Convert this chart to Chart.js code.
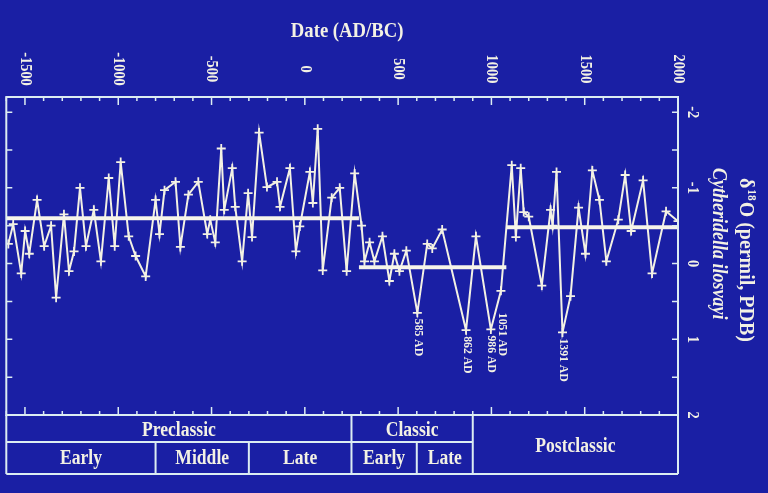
<!DOCTYPE html>
<html>
<head>
<meta charset="utf-8">
<script src="https://cdn.jsdelivr.net/npm/chart.js@4"></script>
<style>
  html, body { margin: 0; padding: 0; background: #1a1fa4; }
  #wrap { width: 768px; height: 493px; }
</style>
</head>
<body>
<div id="wrap"><canvas id="chart1" width="768" height="493"></canvas></div>
<script>
// d18O record (years AD, negative = BC)
const years = [-1589,-1563,-1520,-1499,-1477,-1435,-1397,-1360,-1333,-1291,-1264,-1237,-1205,-1173,-1131,-1093,-1051,-1019,-987,-944,
  -907,-853,-800,-779,-752,-693,-667,-624,-571,-523,-507,-480,-448,-432,-389,-373,-336,-304,-283,-245,-203,
  -149,-133,-80,-48,-27,27,43,69,96,144,187,224,267,304,320,347,373,416,453,480,507,544,
  603,656,683,736,864,917,997,1051,1109,1131,1157,1173,1200,1270,
  1317,1328,1349,1381,1424,1467,1504,1541,1579,1616,1680,1717,1749,1813,1861,1936,2000];
const d18O = [-0.26,-0.52,0.13,-0.43,-0.13,-0.84,-0.23,-0.5,0.45,-0.65,0.1,-0.16,-1.0,-0.23,-0.71,-0.03,-1.13,-0.23,-1.34,-0.36,
  -0.1,0.17,-0.84,-0.39,-0.97,-1.08,-0.22,-0.91,-1.08,-0.39,-0.58,-0.28,-1.52,-0.71,-1.26,-0.75,-0.03,-0.93,-0.35,-1.73,-1.01,
  -1.08,-0.75,-1.26,-0.16,-0.49,-1.21,-0.8,-1.78,0.09,-0.87,-1.0,0.1,-1.19,-0.5,-0.03,-0.28,-0.03,-0.36,0.23,-0.13,0.1,-0.17,
  0.65,-0.26,-0.2,-0.45,0.88,-0.36,0.87,0.36,-1.3,-0.35,-1.26,-0.68,-0.62,0.29,
  -0.71,-0.5,-1.21,0.91,0.43,-0.74,-0.13,-1.23,-0.84,-0.03,-0.58,-1.17,-0.43,-1.1,0.13,-0.69,-0.56];

// mean levels for the three periods
const meanStart = [-1600, 290, 1080];
const meanEnd = [290, 1080, 2000];
const meanValue = [-0.6, 0.05, -0.48];

// labelled drought minima
const droughtYears = [603, 864, 997, 1051, 1381];
const droughtLabels = ["585 AD", "862 AD", "986 AD", "1051 AD", "1391 AD"];

const xTicks = [-1500, -1000, -500, 0, 500, 1000, 1500, 2000];
const yTicks = [-2, -1, 0, 1, 2];

// period table under the plot
const periodNames = ["Preclassic", "Classic", "Postclassic"];
const periodBounds = [-1600, 250, 900, 2000];
const subNames = ["Early", "Middle", "Late", "Early", "Late"];
const subBounds = [-1600, -800, -300, 250, 600, 900];

const ink = "#f3f1e4";
const frameInk = "#dcecf2";

function rotText(c, txt, x, y, font, align, squeeze) {
    c.save();
    c.translate(x, y);
    c.rotate(Math.PI / 2);
    c.scale(squeeze || 1, 1);
    c.font = font;
    c.textAlign = align || "center";
    c.textBaseline = "middle";
    c.fillText(txt, 0, 0);
    c.restore();
}

function flatText(c, txt, x, y, font, squeeze) {
    c.save();
    c.translate(x, y);
    c.scale(squeeze || 1, 1);
    c.font = font;
    c.textAlign = "center";
    c.textBaseline = "middle";
    c.fillText(txt, 0, 0);
    c.restore();
}

const slide = {
    id: "slide",
    beforeDraw(chart) {
        const c = chart.ctx;
        c.save();
        c.fillStyle = "#1a1fa4";
        c.fillRect(0, 0, chart.width, chart.height);
        c.restore();
    },
    afterDraw(chart) {
        const c = chart.ctx;
        const a = chart.chartArea;
        const xs = chart.scales.x, ys = chart.scales.y;
        const rowMid = a.bottom + 27, rowEnd = a.bottom + 59;
        c.save();
        c.strokeStyle = frameInk;
        c.lineWidth = 2;
        c.strokeRect(a.left, a.top, a.right - a.left, a.bottom - a.top);

        // ticks, pointing inward
        c.lineWidth = 1.5;
        c.beginPath();
        for (let v = -1600; v <= 2000; v += 100) {
            const px = xs.getPixelForValue(v);
            const len = v % 500 === 0 ? 8 : 4;
            c.moveTo(px, a.top); c.lineTo(px, a.top + len);
            c.moveTo(px, a.bottom); c.lineTo(px, a.bottom - len);
        }
        for (let v = -2; v <= 2; v += 0.5) {
            const py = ys.getPixelForValue(v);
            c.moveTo(a.left, py); c.lineTo(a.left + 6, py);
            c.moveTo(a.right, py); c.lineTo(a.right - 6, py);
        }
        c.stroke();

        // period table
        c.lineWidth = 2;
        c.beginPath();
        c.moveTo(a.left, rowMid); c.lineTo(xs.getPixelForValue(periodBounds[2]), rowMid);
        c.moveTo(a.left, rowEnd); c.lineTo(a.right, rowEnd);
        c.moveTo(a.left, a.bottom); c.lineTo(a.left, rowEnd);
        c.moveTo(a.right, a.bottom); c.lineTo(a.right, rowEnd);
        periodBounds.slice(1, 3).forEach(v => {
            const px = xs.getPixelForValue(v);
            c.moveTo(px, a.bottom); c.lineTo(px, rowEnd);
        });
        subBounds.slice(1, 5).forEach(v => {
            const px = xs.getPixelForValue(v);
            c.moveTo(px, rowMid); c.lineTo(px, rowEnd);
        });
        c.stroke();

        c.fillStyle = ink;
        const tFont = "bold 20px 'Liberation Serif', serif";
        periodNames.forEach((n, i) => {
            const px = (xs.getPixelForValue(periodBounds[i]) + xs.getPixelForValue(periodBounds[i + 1])) / 2;
            const py = i === 2 ? (a.bottom + rowEnd) / 2 + 2 : (a.bottom + rowMid) / 2 + 2;
            flatText(c, n, px, py, tFont, 0.88);
        });
        subNames.forEach((n, i) => {
            const px = (xs.getPixelForValue(subBounds[i]) + xs.getPixelForValue(subBounds[i + 1])) / 2;
            flatText(c, n, px, (rowMid + rowEnd) / 2 + 1, tFont, 0.88);
        });

        // axis labels
        const tickFont = "bold 16px 'Liberation Serif', serif";
        xTicks.forEach(v => rotText(c, String(v), xs.getPixelForValue(v), 69, tickFont, "center", 0.9));
        yTicks.forEach(v => rotText(c, String(v), a.right + 14, ys.getPixelForValue(v), tickFont, "center", 0.9));
        flatText(c, "Date (AD/BC)", (a.left + a.right) / 2 + 5, 31, "bold 22px 'Liberation Serif', serif", 0.85);

        // right title: d18O (permil, PDB) / Cytheridella ilosvayi
        c.save();
        c.translate(745, 178);
        c.rotate(Math.PI / 2);
        c.scale(0.95, 1);
        c.textBaseline = "middle";
        c.textAlign = "left";
        c.font = "bold 21px 'Liberation Serif', serif";
        c.fillText("\u03b4", 0, 0);
        let w = c.measureText("\u03b4").width;
        c.font = "bold 12px 'Liberation Serif', serif";
        c.fillText("18", w + 1, -6);
        w += c.measureText("18").width + 2;
        c.font = "bold 21px 'Liberation Serif', serif";
        c.fillText("O (permil, PDB)", w, 0);
        c.restore();
        rotText(c, "Cytheridella ilosvayi", 718, 168, "bold italic 20px 'Liberation Serif', serif", "left", 0.9);

        // drought labels under the minima
        const aFont = "bold 13px 'Liberation Serif', serif";
        droughtYears.forEach((yr, i) => {
            const k = years.indexOf(yr);
            const px = xs.getPixelForValue(yr);
            const py = ys.getPixelForValue(d18O[k]) + (droughtLabels[i] === "1051 AD" ? 22 : 6);
            rotText(c, droughtLabels[i], px + 1, py, aFont, "left", 0.9);
        });
        c.restore();
    }
};

const seriesPts = years.map((yr, i) => ({ x: yr, y: d18O[i] }));
const meanSets = meanValue.map((v, i) => ({
    data: [{ x: meanStart[i], y: v }, { x: meanEnd[i], y: v }],
    borderColor: "#f6f4ea",
    borderWidth: 4,
    pointRadius: 0,
    order: 1
}));

const ctx = document.getElementById("chart1").getContext("2d");
new Chart(ctx, {
    type: "line",
    data: {
        datasets: [{
            data: seriesPts,
            borderColor: ink,
            borderWidth: 2,
            pointStyle: "cross",
            pointRadius: 4.5,
            pointBorderWidth: 1.8,
            pointBorderColor: ink,
            tension: 0,
            order: 2
        }].concat(meanSets)
    },
    options: {
        responsive: false,
        animation: false,
        layout: { padding: { left: 5, top: 97, right: 90, bottom: 78 } },
        plugins: { legend: { display: false }, tooltip: { enabled: false } },
        scales: {
            x: { type: "linear", min: -1600, max: 2000, display: false },
            y: { min: -2.2, max: 2, reverse: true, display: false }
        }
    },
    plugins: [slide]
});
</script>
</body>
</html>
